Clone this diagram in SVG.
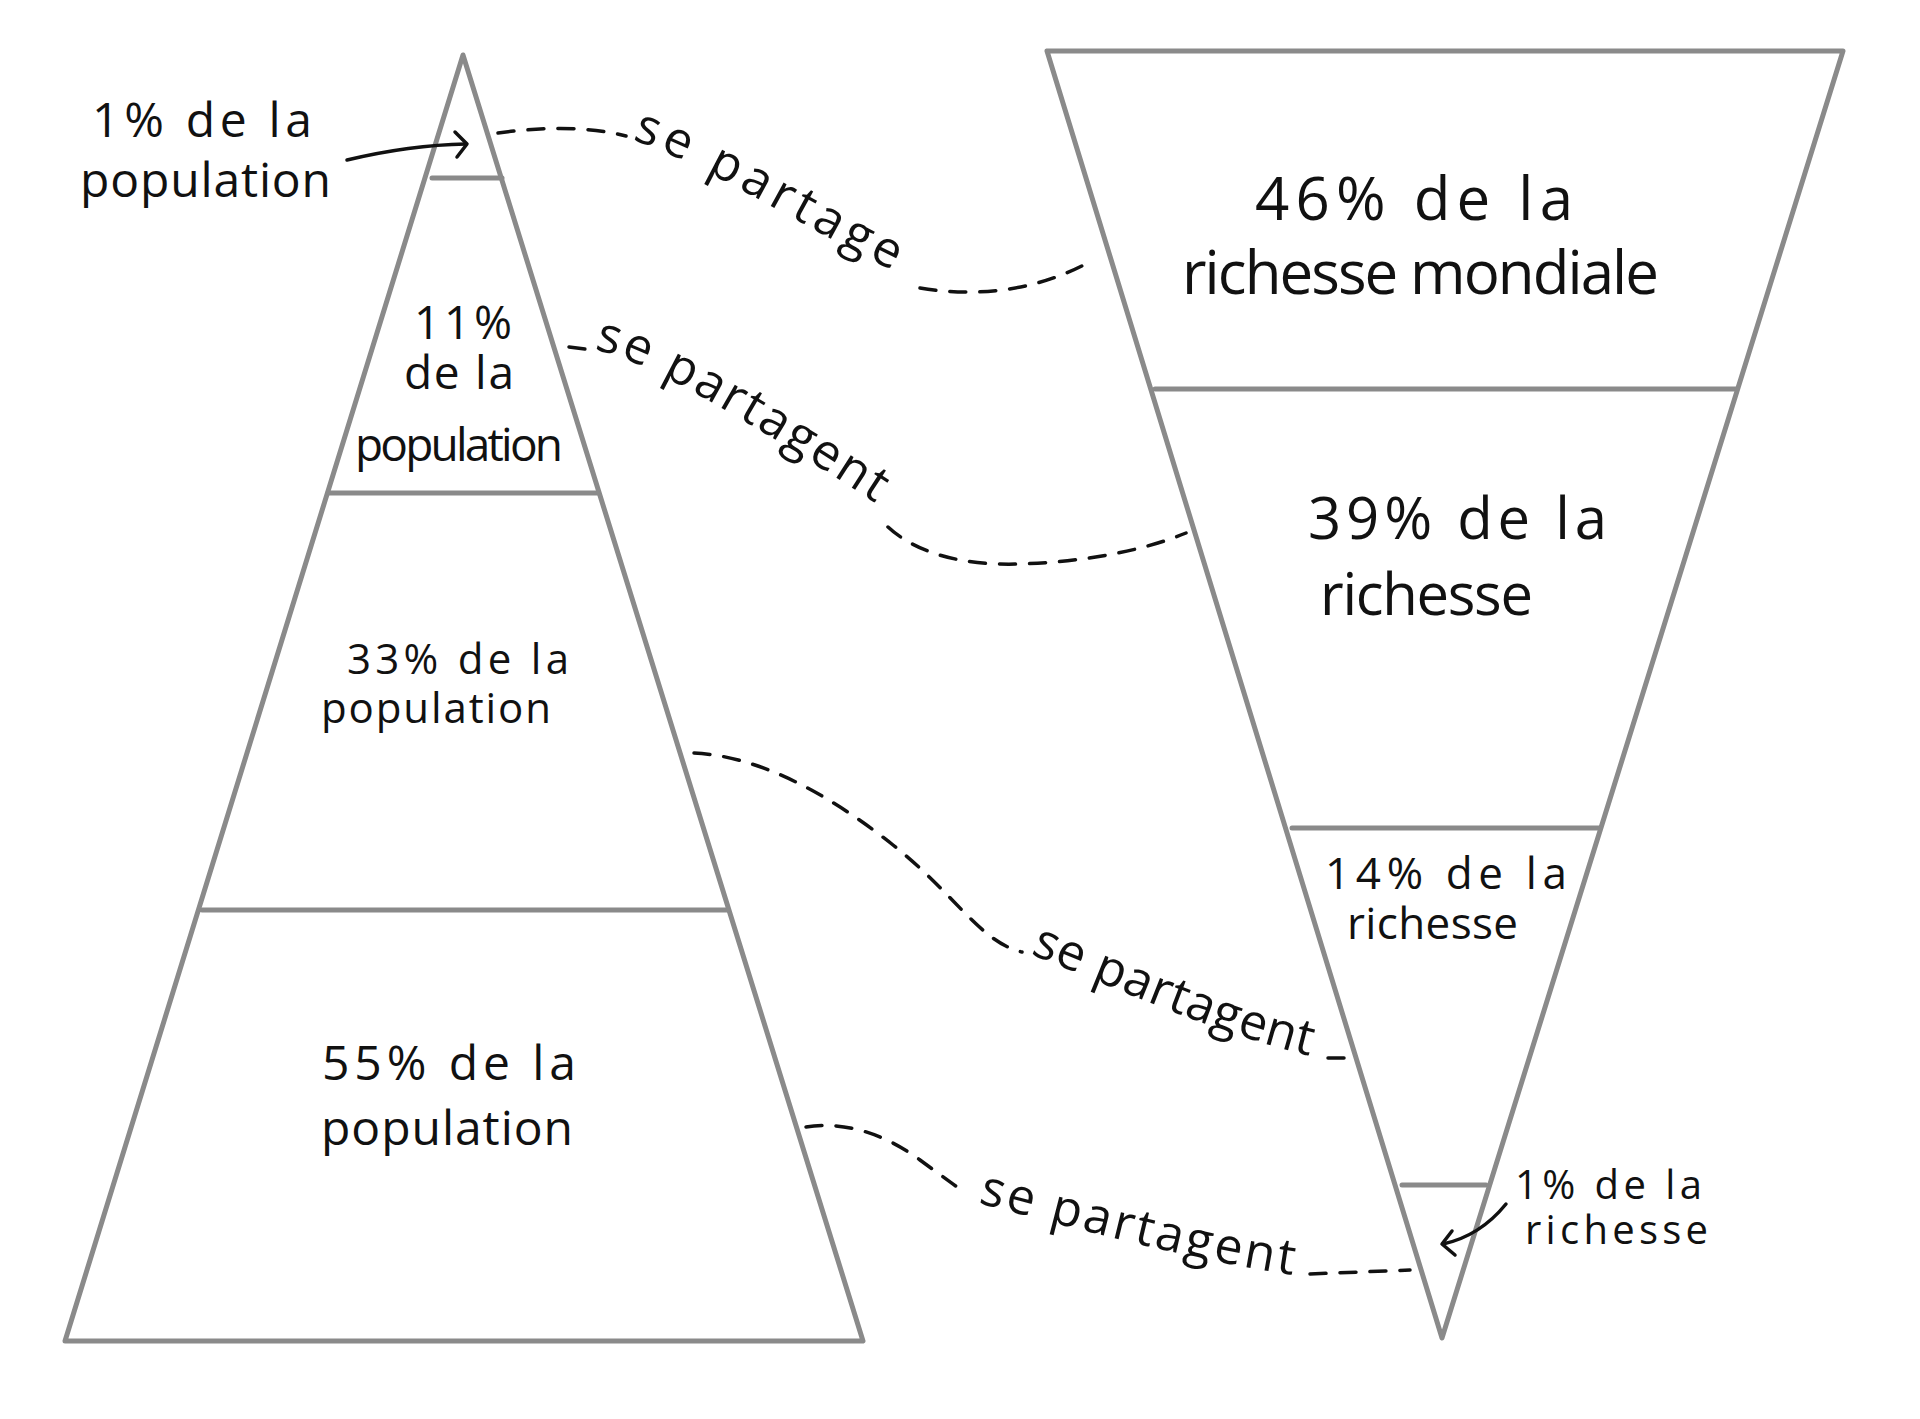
<svg xmlns="http://www.w3.org/2000/svg" width="1920" height="1419" viewBox="0 0 1920 1419">
<defs>
<style>
.shape{fill:none;stroke:#8a8a8a;stroke-width:5;stroke-linejoin:round;stroke-linecap:round}
.div{fill:none;stroke:#8a8a8a;stroke-width:5;stroke-linecap:round}
.lbl{font-family:"Open Sans","Noto Sans",sans-serif;fill:#111;font-size:48px}
.f60{font-size:60px}
.f58{font-size:58px}
.f46{font-size:46px}
.f44{font-size:44px}
.f42{font-size:42px}
.f40{font-size:40px}
.con{font-size:50px}
.dash{fill:none;stroke:#111;stroke-width:3.5;stroke-dasharray:16 14;stroke-linecap:round}
.arr{fill:none;stroke:#111;stroke-width:3.5;stroke-linecap:round;stroke-linejoin:round}
.tp{fill:none;stroke:none}
</style>
<path id="p1" class="tp" d="M 632,140 C 700,160 820,238 905,276"/>
<path id="p2" class="tp" d="M 594,350 C 640,356 760,428 880,506"/>
<path id="p3" class="tp" d="M 1030,954 C 1120,990 1220,1035 1315,1057"/>
<path id="p4" class="tp" d="M 978,1203 C 1080,1230 1200,1262 1300,1276"/>
</defs>
<rect width="1920" height="1419" fill="#fff"/>

<g id="pyramid-population">
<path class="shape" d="M 463,55 L 863,1341 L 65,1341 Z"/>
<line class="div" x1="432" y1="178" x2="502" y2="178"/>
<line class="div" x1="328" y1="493" x2="598" y2="493"/>
<line class="div" x1="202" y1="910" x2="728" y2="910"/>
</g>

<g id="pyramid-richesse">
<path class="shape" d="M 1047,51 L 1843,51 L 1442,1338 Z"/>
<line class="div" x1="1155" y1="389" x2="1737" y2="389"/>
<line class="div" x1="1292" y1="828" x2="1600" y2="828"/>
<line class="div" x1="1402" y1="1185" x2="1486" y2="1185"/>
</g>

<g id="label-pop-1">
<text class="lbl" x="92" y="137" textLength="220">1% de la</text>
<text class="lbl" x="80" y="197" textLength="251">population</text>
<path class="arr" d="M 347,160 Q 410,145 466,144"/>
<path class="arr" d="M 455,132 L 467,144 L 457,157"/>
</g>
<g id="label-pop-11">
<text class="lbl f46" x="414" y="339" textLength="98">11%</text>
<text class="lbl f46" x="404" y="389" textLength="110">de la</text>
<text class="lbl f46" x="355" y="461" textLength="208">population</text>
</g>
<g id="label-pop-33">
<text class="lbl f42" x="347" y="674" textLength="222">33% de la</text>
<text class="lbl f42" x="321" y="723" textLength="230">population</text>
</g>
<g id="label-pop-55">
<text class="lbl" x="322" y="1080" textLength="254">55% de la</text>
<text class="lbl" x="321" y="1145" textLength="252">population</text>
</g>

<g id="label-rich-46">
<text class="lbl f60" x="1255" y="220" textLength="318">46% de la</text>
<text class="lbl f60" x="1182" y="294" textLength="477">richesse mondiale</text>
</g>
<g id="label-rich-39">
<text class="lbl f58" x="1308" y="539" textLength="299">39% de la</text>
<text class="lbl f58" x="1320" y="615" textLength="213">richesse</text>
</g>
<g id="label-rich-14">
<text class="lbl f44" x="1325" y="889" textLength="242">14% de la</text>
<text class="lbl f44" x="1347" y="939" textLength="171">richesse</text>
</g>
<g id="label-rich-1">
<text class="lbl f40" x="1515" y="1199" textLength="187">1% de la</text>
<text class="lbl f40" x="1525" y="1244" textLength="183">richesse</text>
<path class="arr" d="M 1506,1204 Q 1480,1236 1443,1244"/>
<path class="arr" d="M 1452,1231 L 1442,1244 L 1455,1255"/>
</g>

<g id="connectors">
<path class="dash" d="M 498,133 C 550,126 590,127 626,136"/>
<text class="lbl con"><textPath href="#p1" textLength="292">se partage</textPath></text>
<path class="dash" d="M 920,288 C 980,298 1040,290 1093,260"/>

<path class="dash" d="M 569,347 L 585,349"/>
<text class="lbl con"><textPath href="#p2" textLength="322">se partagent</textPath></text>
<path class="dash" d="M 888,527 C 915,552 960,566 1020,564 S 1140,552 1186,533"/>

<path class="dash" d="M 694,753 C 760,756 830,795 893,845 S 980,942 1022,952"/>
<text class="lbl con"><textPath href="#p3" textLength="298">se partagent</textPath></text>
<path class="dash" d="M 1328,1058 L 1358,1058"/>

<path class="dash" d="M 806,1127 C 850,1120 890,1138 920,1160 S 950,1182 967,1194"/>
<text class="lbl con"><textPath href="#p4" textLength="323">se partagent</textPath></text>
<path class="dash" d="M 1310,1274 L 1410,1270"/>
</g>
</svg>
